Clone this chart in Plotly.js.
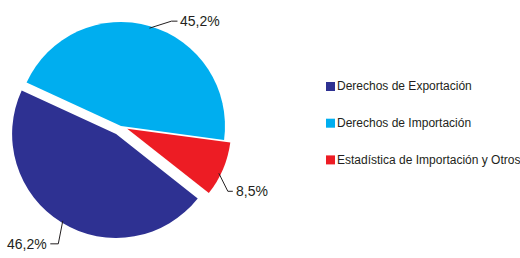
<!DOCTYPE html>
<html><head><meta charset="utf-8">
<script src="https://cdn.plot.ly/plotly-3.0.1.min.js"></script>
<style>html,body{margin:0;padding:0;background:#fff}#chart{width:520px;height:258px}</style>
</head><body><div id="chart"></div>
<script>
const categories = ['Derechos de Exportación', 'Derechos de Importación', 'Estadística de Importación y Otros'];
const shares = [46.2, 45.2, 8.5];
const colors = ['#2E3192', '#00AEEF', '#ED1C24'];
const pulls = [0.09, 0, 0.065];

// ---- styling / geometry ----
const W = 520, H = 258;
const cx = 121, cy = 126, R = 104;
const rotation = 128.3;
const FONT = '"Liberation Sans", Arial, sans-serif';
const leader = [[-4.5, 23, -8], [22, -7, 6], [9, 18, 5]]; // elbow dx, dy, horizontal tail
const anchorShift = [0, 0, 3]; // degrees, where the leader touches the slice
const legX = 326, legY0 = 86.5, legDY = 36.7, sq = 9;

const px = x => x / W, py = y => 1 - y / H;
const maxPull = Math.max(...pulls);
const half = R * (1 + maxPull);
const domain = {x: [px(cx - half), px(cx + half)], y: [py(cy + half), py(cy - half)]};

const total = shares.reduce((a, b) => a + b, 0);
const shapes = [], annotations = [];
let start = rotation;
shares.forEach((v, i) => {
  const span = v / total * 360;
  const midDeg = start + span / 2;
  start += span;
  const mid = midDeg * Math.PI / 180, aa = (midDeg + anchorShift[i]) * Math.PI / 180;
  const ox = cx + pulls[i] * R * Math.sin(mid), oy = cy - pulls[i] * R * Math.cos(mid);
  const ax = ox + R * 0.98 * Math.sin(aa), ay = oy - R * 0.98 * Math.cos(aa);
  const [dx, dy, t] = leader[i];
  const ex = ax + dx, ey = ay + dy, tx = ex + t;
  shapes.push({type: 'path', xref: 'paper', yref: 'paper',
    path: `M ${px(ax)} ${py(ay)} L ${px(ex)} ${py(ey)} L ${px(tx)} ${py(ey)}`,
    line: {color: '#231F20', width: 1}});
  annotations.push({xref: 'paper', yref: 'paper', x: px(tx + (t > 0 ? 1 : -1)), y: py(ey),
    xanchor: t > 0 ? 'left' : 'right', yanchor: 'middle', showarrow: false,
    text: v.toFixed(1).replace('.', ',') + '%', font: {family: FONT, size: 14, color: '#231F20'}});
});

categories.forEach((name, i) => {
  const yc = legY0 + i * legDY;
  shapes.push({type: 'rect', xref: 'paper', yref: 'paper',
    x0: px(legX), x1: px(legX + sq), y0: py(yc - sq / 2), y1: py(yc + sq / 2),
    fillcolor: colors[i], line: {width: 0}});
  annotations.push({xref: 'paper', yref: 'paper', x: px(legX + sq), y: py(yc),
    xanchor: 'left', yanchor: 'middle', showarrow: false, text: name,
    font: {family: FONT, size: 12, color: '#231F20'}});
});

const data = [{
  type: 'pie', labels: categories, values: shares, sort: false, direction: 'clockwise',
  rotation: rotation, pull: pulls, marker: {colors: colors, line: {width: 0}},
  textinfo: 'none', hoverinfo: 'label+percent', domain: domain, showlegend: false
}];
const layout = {
  width: W, height: H, margin: {l: 0, r: 0, t: 0, b: 0},
  paper_bgcolor: '#fff', plot_bgcolor: '#fff', showlegend: false,
  shapes: shapes, annotations: annotations, font: {family: FONT}
};
Plotly.newPlot('chart', data, layout, {displayModeBar: false, staticPlot: true});
</script></body></html>
